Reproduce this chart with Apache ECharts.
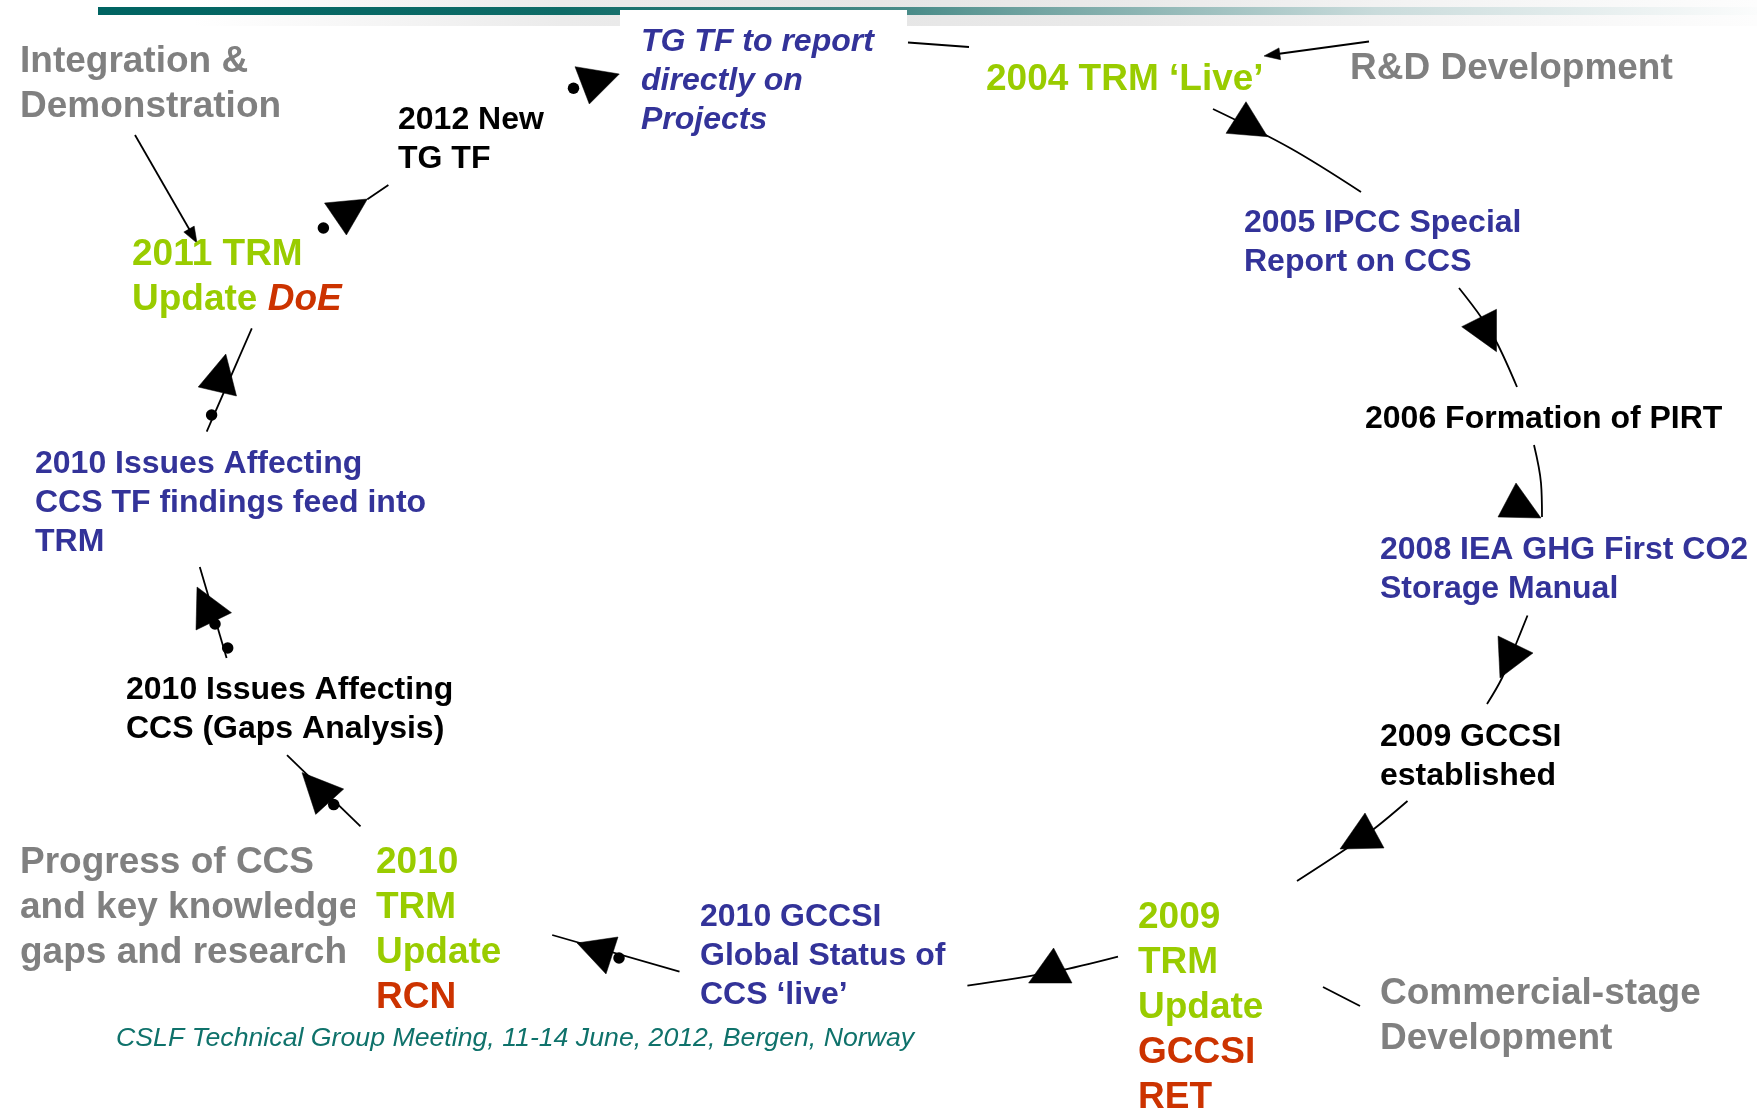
<!DOCTYPE html>
<html><head><meta charset="utf-8">
<script src="https://cdn.jsdelivr.net/npm/echarts@6/dist/echarts.min.js"></script>
<style>html,body{margin:0;padding:0;background:#fff}#c{width:1757px;height:1110px}</style>
</head><body><div id="c"></div><script>
// ---- diagram content ----
const nodeTexts = [
  '{gy|Integration &}\n{gy|Demonstration}',
  '{bk|2012 New}\n{bk|TG TF}',
  '{bi|TG TF to report}\n{bi|directly on}\n{bi|Projects}',
  '{gr|2004 TRM \u2018Live\u2019}',
  '{gy|R&D Development}',
  '{bl|2005 IPCC Special}\n{bl|Report on CCS}',
  '{bk|2006 Formation of PIRT}',
  '{bl|2008 IEA GHG First CO2}\n{bl|Storage Manual}',
  '{bk|2009 GCCSI}\n{bk|established}',
  '{gr|2009}\n{gr|TRM}\n{gr|Update}\n{rd|GCCSI}\n{rd|RET}',
  '{gy|Commercial-stage}\n{gy|Development}',
  '{bl|2010 GCCSI}\n{bl|Global Status of}\n{bl|CCS \u2018live\u2019}',
  '{ft|CSLF Technical Group Meeting, 11-14 June, 2012, Bergen, Norway}',
  '{gy|Progress of CCS}\n{gy|and key knowledge}\n{gy|gaps and research}',
  '{bk|2010 Issues Affecting}\n{bk|CCS (Gaps Analysis)}',
  '{bl|2010 Issues Affecting}\n{bl|CCS TF findings feed into}\n{bl|TRM}',
  '{gr|2011 TRM}\n{gr|Update }{ri|DoE}'
];
const nodeX = [20.5, 398.5, 641.5, 986.5, 1350.5, 1244.5, 1365.5, 1380.5, 1380.5, 1138.5, 1380.5, 700.5, 116.5, 20.5, 126.5, 35.5, 132.5];
const nodeY = [39.5, 101.5, 23, 57.5, 46.5, 204.5, 400.5, 531.5, 718.5, 896, 971.5, 898.5, 1023.5, 840.5, 671.5, 445.5, 233];

// milestone that overlaps the "knowledge" line (drawn on top)
const topNodeText = '{gr|2010}\n{gr|TRM}\n{gr|Update}\n{rd|RCN}';
const topNodeX = 376.5;
const topNodeY = 840.5;

// connector paths (diagram units)
const connectorPaths = [
  [[908, 42.5], [969, 47]],
  [[1369, 41.5], [1270, 55]],
  [[135, 135], [192, 234]],
  [[1213, 109], [1290, 148], [1361, 192]],
  [[1459, 288], [1481, 317], [1497, 343], [1517, 387]],
  [[1534, 445], [1541, 483], [1542, 517]],
  [[1527.5, 615.5], [1516, 644], [1502, 678], [1487, 704]],
  [[1407.5, 801], [1374.5, 828.5], [1343.6, 850.5], [1297, 881]],
  [[1118, 956.7], [1054.5, 971.7], [967.4, 985.7]],
  [[679.5, 971.7], [552.2, 935]],
  [[360.5, 826.4], [287, 755.2]],
  [[199.8, 567], [226.6, 658]],
  [[206.7, 431.7], [251.8, 328.3]],
  [[388.4, 185], [367.4, 199.3]],
  [[1323, 987], [1360, 1006]]
];

// arrowheads: three corners each
const arrowHeads = [
  [575, 66.7, 619.3, 74, 589.3, 104],
  [324.5, 203, 367.4, 199, 346.4, 235],
  [225.8, 354, 198.2, 387, 236.5, 396],
  [197, 587, 231.5, 612.7, 196, 630],
  [302, 772.6, 343.7, 789, 315.7, 814.4],
  [577, 943, 618, 937, 606, 974],
  [1053.6, 948, 1028.6, 983, 1072, 983],
  [1365, 813, 1340, 849, 1384, 848],
  [1498, 636, 1533, 653, 1500, 678],
  [1516, 483, 1498, 517, 1541, 518],
  [1461.7, 326.7, 1496.5, 309.3, 1496.5, 351.7],
  [1246, 101.7, 1226, 133.3, 1267.6, 136.7],
  [1264, 56, 1280.6, 59.7, 1279, 47.9],
  [197, 243, 194.2, 226.1, 183.8, 232.1]
];

// junction dots
const junctionDots = [
  [573.5, 88.3], [323.4, 228], [211.6, 415], [215, 624], [227.7, 648], [333.7, 804.6], [619, 958]
];

// ---- styling ----
const F = '"Liberation Sans", Arial, Helvetica, sans-serif';
function st(color, size, lh, italic, bold) {
  return { color: color, fontSize: size, lineHeight: lh, fontFamily: F,
           fontWeight: bold === false ? 'normal' : 'bold', fontStyle: italic ? 'italic' : 'normal' };
}
const rich = {
  gy: st('#808080', 37, 45),
  gr: st('#99cc00', 37, 45),
  rd: st('#cc3300', 37, 45),
  ri: st('#cc3300', 37, 45, true),
  bl: st('#333399', 32, 39),
  bi: st('#333399', 32, 39, true),
  bk: st('#000000', 32, 39),
  ft: st('#0f726b', 26.7, 32, true, false)
};

const chart = echarts.init(document.getElementById('c'), null, { renderer: 'canvas' });

const series = [];
connectorPaths.forEach(function (p) {
  series.push({
    type: 'line', data: p, smooth: p.length > 2 ? 0.35 : false, showSymbol: false, symbol: 'none',
    lineStyle: { color: '#000', width: 1.8, opacity: 1 }, silent: true, z: 3
  });
});
series.push({
  type: 'custom', coordinateSystem: 'cartesian2d', data: arrowHeads, silent: true, z: 4,
  encode: { x: [0, 2, 4], y: [1, 3, 5] },
  renderItem: function (params, api) {
    const pts = [0, 1, 2].map(function (i) { return api.coord([api.value(2 * i), api.value(2 * i + 1)]); });
    return { type: 'polygon', shape: { points: pts }, style: { fill: '#000', stroke: '#000', lineWidth: 0.5, opacity: 1 } };
  }
});
series.push({
  type: 'scatter', data: junctionDots, symbol: 'circle', symbolSize: 11.5, silent: true, z: 4,
  itemStyle: { color: '#000', opacity: 1 }
});
series.push({
  type: 'scatter', silent: true, z: 5, symbolSize: 1, itemStyle: { color: 'rgba(0,0,0,0)', opacity: 1 },
  data: nodeTexts.map(function (t, i) {
    return { value: [nodeX[i], nodeY[i]],
      label: { show: true, formatter: t, rich: rich, position: [0, 0], align: 'left', verticalAlign: 'top', fontFamily: F, opacity: 1 } };
  })
});
series.push({
  type: 'scatter', silent: true, z: 6, symbolSize: 1, itemStyle: { color: 'rgba(0,0,0,0)', opacity: 1 },
  data: [{ value: [topNodeX, topNodeY],
    label: { show: true, formatter: topNodeText, rich: rich, position: [-21, 0], align: 'left', verticalAlign: 'top',
             backgroundColor: '#fff', padding: [0, 0, 0, 21], fontFamily: F, opacity: 1 } }]
});

const option = {
  backgroundColor: '#fff',
  animation: false,
  grid: { left: 0, right: 0, top: 0, bottom: 0 },
  xAxis: { type: 'value', min: 0, max: 1757, show: false },
  yAxis: { type: 'value', min: 0, max: 1110, inverse: true, show: false },
  graphic: [
    { type: 'rect', z: -10, shape: { x: 0, y: 0, width: 1757, height: 26 },
      style: { fill: new echarts.graphic.LinearGradient(0, 0, 1, 0, [
        { offset: 0, color: '#ffffff' }, { offset: 0.11, color: '#ffffff' }, { offset: 0.32, color: '#ebebeb' },
        { offset: 0.5, color: '#e6e6e6' }, { offset: 0.65, color: '#eaeaea' }, { offset: 0.8, color: '#f3f3f3' },
        { offset: 1, color: '#fdfdfd' }]) } },
    { type: 'rect', z: -9, shape: { x: 98, y: 7, width: 1659, height: 8 },
      style: { fill: new echarts.graphic.LinearGradient(0, 0, 1, 0, [
        { offset: 0, color: '#006462' }, { offset: 0.28, color: '#0e6b67' }, { offset: 0.49, color: '#4a8c89' },
        { offset: 0.57, color: '#74a5a3' }, { offset: 0.77, color: '#c9dbdb' }, { offset: 1, color: '#fbfcfc' }]) } },
    { type: 'rect', z: -8, shape: { x: 620, y: 10, width: 287, height: 120 }, style: { fill: '#ffffff' } }
  ],
  series: series
};
chart.setOption(option);
</script></body></html>
